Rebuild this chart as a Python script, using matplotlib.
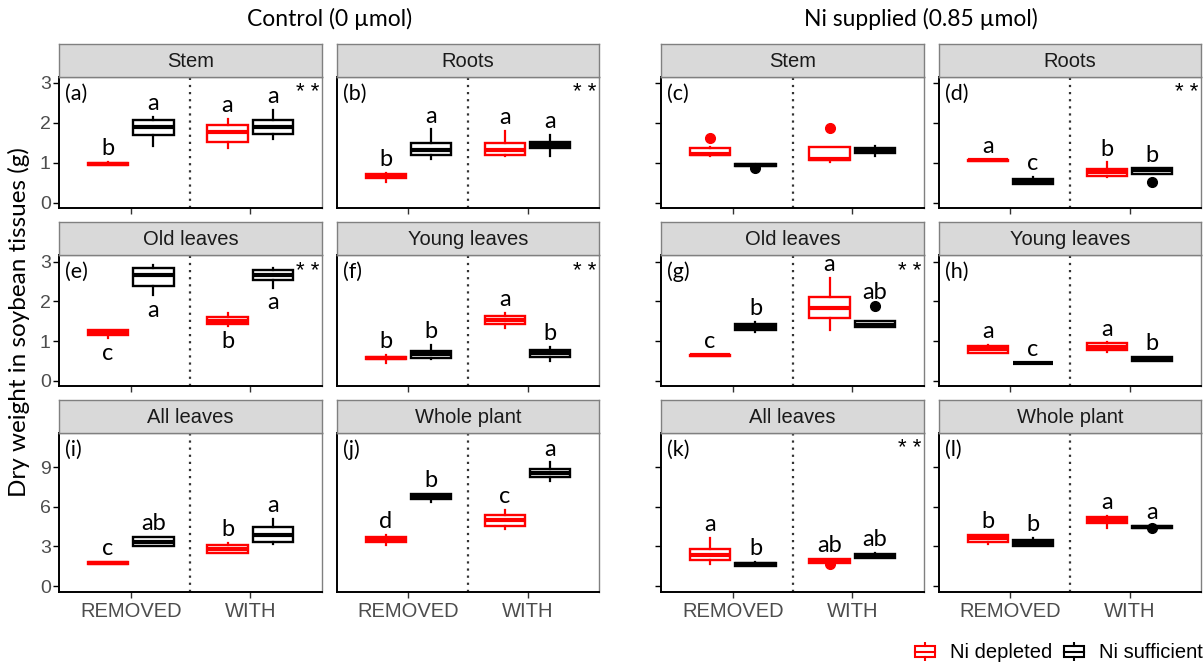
import matplotlib.pyplot as plt
from matplotlib.patches import Rectangle

W, H = 1204, 663

treatments = ["REMOVED", "WITH"]
groups = ["Ni depleted", "Ni sufficient"]
group_colors = ["#FF0000", "#000000"]

# five-number summaries [whisker low, q1, median, q3, whisker high]
# box order: REMOVED/depleted, REMOVED/sufficient, WITH/depleted, WITH/sufficient
ctrl_stem = [[0.94, 0.95, 0.97, 0.99, 1.03], [1.42, 1.69, 1.91, 2.07, 2.15],
             [1.36, 1.53, 1.77, 1.96, 2.10], [1.59, 1.72, 1.89, 2.07, 2.33]]
ctrl_roots = [[0.53, 0.63, 0.67, 0.71, 0.75], [1.10, 1.20, 1.31, 1.49, 1.84],
              [1.17, 1.20, 1.32, 1.51, 1.81], [1.17, 1.37, 1.45, 1.53, 1.70]]
ctrl_old = [[1.07, 1.15, 1.22, 1.27, 1.27], [2.15, 2.40, 2.67, 2.84, 2.93],
            [1.37, 1.42, 1.52, 1.62, 1.71], [2.34, 2.53, 2.67, 2.79, 2.84]]
ctrl_young = [[0.46, 0.54, 0.57, 0.60, 0.65], [0.55, 0.57, 0.68, 0.76, 0.90],
              [1.33, 1.44, 1.54, 1.64, 1.71], [0.51, 0.61, 0.69, 0.78, 0.85]]
ctrl_all = [[1.64, 1.64, 1.74, 1.84, 1.84], [3.00, 3.00, 3.33, 3.71, 3.71],
            [2.52, 2.52, 2.82, 3.13, 3.25], [3.20, 3.35, 3.88, 4.46, 5.07]]
ctrl_whole = [[3.08, 3.35, 3.53, 3.71, 3.86], [6.35, 6.58, 6.81, 7.00, 7.00],
              [4.31, 4.54, 4.98, 5.42, 5.80], [8.00, 8.26, 8.55, 8.89, 9.38]]

ni_stem = [[1.17, 1.20, 1.23, 1.38, 1.39], [0.92, 0.92, 0.94, 0.97, 0.97],
           [1.03, 1.06, 1.10, 1.39, 1.39], [1.17, 1.25, 1.30, 1.37, 1.41]]
ni_roots = [[1.05, 1.05, 1.06, 1.07, 1.07], [0.47, 0.47, 0.53, 0.59, 0.65],
            [0.64, 0.67, 0.76, 0.84, 1.01], [0.73, 0.73, 0.83, 0.86, 0.86]]
ni_old = [[0.63, 0.63, 0.64, 0.65, 0.65], [1.22, 1.27, 1.35, 1.43, 1.48],
          [1.29, 1.58, 1.83, 2.10, 2.59], [1.35, 1.35, 1.40, 1.50, 1.50]]
ni_young = [[0.71, 0.71, 0.80, 0.87, 0.90], [0.44, 0.44, 0.45, 0.46, 0.46],
            [0.72, 0.77, 0.86, 0.95, 0.97], [0.51, 0.51, 0.56, 0.61, 0.61]]
ni_all = [[1.65, 1.95, 2.36, 2.79, 3.63], [1.52, 1.52, 1.65, 1.78, 1.83],
          [1.78, 1.78, 1.90, 2.03, 2.03], [2.16, 2.16, 2.28, 2.41, 2.49]]
ni_whole = [[3.22, 3.32, 3.63, 3.88, 3.88], [3.07, 3.07, 3.27, 3.48, 3.63],
            [4.39, 4.75, 5.00, 5.25, 5.33], [4.39, 4.39, 4.49, 4.57, 4.57]]

ni_fliers = {"Stem": [[1.63], [0.86], [1.88], []],
             "Roots": [[], [], [], [0.53]],
             "Old leaves": [[], [], [], [1.88]],
             "All leaves": [[], [], [1.65], []],
             "Whole plant": [[], [], [], [4.39]]}

ctrl_letters = {"Stem": ["b", "a", "a", "a"], "Roots": ["b", "a", "a", "a"],
                "Old leaves": ["c", "a", "b", "a"], "Young leaves": ["b", "b", "a", "b"],
                "All leaves": ["c", "ab", "b", "a"], "Whole plant": ["d", "b", "c", "a"]}
ni_letters = {"Roots": ["a", "c", "b", "b"], "Old leaves": ["c", "b", "a", "ab"],
              "Young leaves": ["a", "c", "a", "b"], "All leaves": ["a", "b", "ab", "ab"],
              "Whole plant": ["b", "b", "a", "a"]}
ctrl_stars = ["Stem", "Roots", "Old leaves", "Young leaves"]
ni_stars = ["Roots", "Old leaves", "All leaves"]

ctrl = {"Stem": ctrl_stem, "Roots": ctrl_roots, "Old leaves": ctrl_old,
        "Young leaves": ctrl_young, "All leaves": ctrl_all, "Whole plant": ctrl_whole}
ni = {"Stem": ni_stem, "Roots": ni_roots, "Old leaves": ni_old,
      "Young leaves": ni_young, "All leaves": ni_all, "Whole plant": ni_whole}

layout = [["Stem", "Roots"], ["Old leaves", "Young leaves"], ["All leaves", "Whole plant"]]

# pixel geometry
col_x = [(59, 322), (337, 599), (661, 924), (939, 1201)]
row_y = [(77, 208), (255, 386), (433, 592)]
strip_h = 33
row_ylim = [(-0.13, 3.15), (-0.13, 3.17), (-0.45, 11.6)]
row_ticks = [[0, 1, 2, 3], [0, 1, 2, 3], [0, 3, 6, 9]]

SANS = "Liberation Sans"
CAL = "Lato"


def frac(x0, y0, x1, y1):
    return [x0 / W, 1 - y1 / H, (x1 - x0) / W, (y1 - y0) / H]


fig = plt.figure(figsize=(W / 100, H / 100), dpi=100)

tag = iter("abcdefghijkl")
for r, names in enumerate(layout):
    for c in range(4):
        name = names[c % 2]
        is_ni = c >= 2
        data = (ni if is_ni else ctrl)[name]
        fliers = ni_fliers.get(name, [[]] * 4) if is_ni else [[]] * 4
        letters = (ni_letters if is_ni else ctrl_letters).get(name)
        stars = name in (ni_stars if is_ni else ctrl_stars)

        x0, x1 = col_x[c]
        y0, y1 = row_y[r]
        ax = fig.add_axes(frac(x0, y0, x1, y1))
        sax = fig.add_axes(frac(x0, y0 - strip_h, x1, y0))
        sax.set_xticks([])
        sax.set_yticks([])
        sax.set_facecolor("#D9D9D9")
        for s in sax.spines.values():
            s.set_color("#808080")
            s.set_linewidth(1.0)
        sax.text(0.5, 0.48, name, ha="center", va="center", fontsize=14.5,
                 family=SANS, color="#1A1A1A", transform=sax.transAxes)

        ax.set_xlim(0.4, 2.6)
        ax.set_ylim(*row_ylim[r])
        ax.axvline(1.5, color="#333333", ls=(0, (1, 2.2)), lw=1.6)

        for g in range(2):
            idx = [g, g + 2]
            pos = [1 + (g - 0.5) * 0.38, 2 + (g - 0.5) * 0.38]
            stats = []
            for i in idx:
                lo, q1, med, q3, hi = data[i]
                stats.append(dict(whislo=lo, q1=q1, med=med, q3=q3, whishi=hi,
                                  fliers=fliers[i]))
            col = group_colors[g]
            ax.bxp(stats, positions=pos, widths=0.34, showcaps=False,
                   patch_artist=True,
                   boxprops=dict(facecolor="white", edgecolor=col, linewidth=1.7),
                   medianprops=dict(color=col, linewidth=3.0, solid_capstyle="butt"),
                   whiskerprops=dict(color=col, linewidth=1.6),
                   flierprops=dict(marker="o", markerfacecolor=col, markeredgecolor=col,
                                   markersize=7))

        if letters:
            below = (not is_ni) and name == "Old leaves"
            for i, lab in enumerate(letters):
                g = i % 2
                xpos = 1 + i // 2 + (g - 0.5) * 0.38
                lo = min([data[i][0]] + fliers[i])
                hi = max([data[i][4]] + fliers[i])
                if below:
                    ax.annotate(lab, (xpos, lo), xytext=(0, -3), textcoords="offset points",
                                ha="center", va="top", fontsize=17, family=CAL)
                else:
                    ax.annotate(lab, (xpos, hi), xytext=(0, 2), textcoords="offset points",
                                ha="center", va="bottom", fontsize=17, family=CAL)

        ax.annotate("(" + next(tag) + ")", (0, 1), xycoords="axes fraction",
                    xytext=(6, -17), textcoords="offset pixels", ha="left", va="center",
                    fontsize=15.5, family=CAL)
        if stars:
            ax.annotate("* *", (1, 1), xycoords="axes fraction",
                        xytext=(-3, -16), textcoords="offset pixels", ha="right",
                        va="center", fontsize=16, family=SANS)

        for side in ["top", "right"]:
            ax.spines[side].set_color("#808080")
            ax.spines[side].set_linewidth(1.0)
        ax.spines["left"].set_linewidth(1.4)
        ax.spines["bottom"].set_linewidth(1.4)

        ax.set_xticks([1, 2])
        if r == 2:
            ax.set_xticklabels(treatments, fontsize=14.5, family=SANS, color="#4D4D4D")
        else:
            ax.set_xticklabels([])
        ax.set_yticks(row_ticks[r])
        if c == 0:
            ax.set_yticklabels([str(t) for t in row_ticks[r]], fontsize=14,
                               family=SANS, color="#4D4D4D")
            ax.tick_params(axis="y", length=4, width=1.0, pad=2)
        elif c == 1:
            ax.tick_params(axis="y", length=0, labelleft=False)
        else:
            ax.tick_params(axis="y", length=4, width=1.0, labelleft=False)
        ax.tick_params(axis="x", length=4, width=1.0, pad=3, color="#333333")

fig.text(330 / W, 1 - 19 / H, "Control (0 \u00b5mol)", ha="center", va="center",
         fontsize=16.5, family=CAL)
fig.text(921 / W, 1 - 19 / H, "Ni supplied (0.85 \u00b5mol)", ha="center", va="center",
         fontsize=16.5, family=CAL)
fig.text(19 / W, 1 - 322 / H, "Dry weight in soybean tissues (g)", ha="center",
         va="center", rotation=90, fontsize=17.5, family=CAL)

# legend
for k, (x0, xt) in enumerate([(913, 950), (1062, 1099)]):
    kax = fig.add_axes(frac(x0, 642, x0 + 24, 661))
    kax.set_xlim(0, 1)
    kax.set_ylim(0, 1)
    kax.axis("off")
    col = group_colors[k]
    kax.add_patch(Rectangle((0.08, 0.22), 0.84, 0.56, facecolor="white",
                            edgecolor=col, lw=1.5))
    kax.plot([0.08, 0.92], [0.5, 0.5], color=col, lw=1.5)
    kax.plot([0.5, 0.5], [0.0, 0.22], color=col, lw=1.5)
    kax.plot([0.5, 0.5], [0.78, 1.0], color=col, lw=1.5)
    fig.text(xt / W, 1 - 652 / H, groups[k], ha="left", va="center",
             fontsize=14.5, family=SANS)

fig.savefig("out.png", dpi=100)
